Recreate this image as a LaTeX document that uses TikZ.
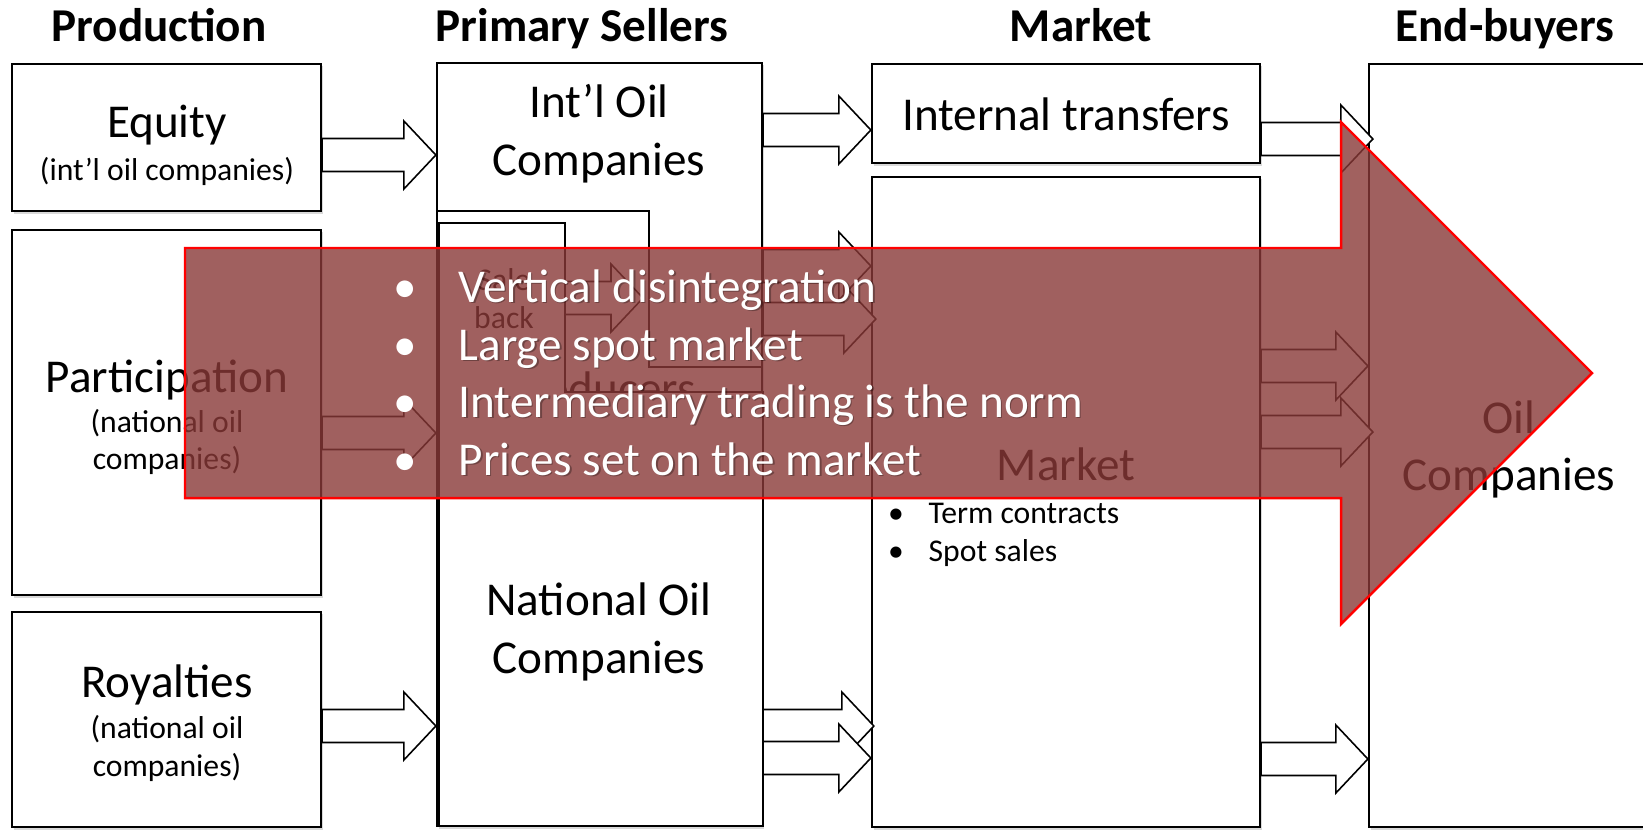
\documentclass[tikz,border=0pt]{standalone}
\usepackage{fontspec}
\setmainfont{Carlito}
\usetikzlibrary{calc,shadows}

\definecolor{overlay}{RGB}{137,57,55}
\newcommand\bigtext{\fontsize{13.4}{16.5}\selectfont}
\newcommand\smalltext{\fontsize{9}{10.8}\selectfont}
% one point of the list on the big arrow: name, baseline, text
\newcommand\pointline[3]{%
	\node[bul, text=black, text opacity=.3] (#1s) at (459.5,#2+1.5) {#3};
	\node[bul] (#1) at (458,#2) {#3};
	\node[bul, anchor=base] (#1b) at (405,#2) {\textbullet};}

\begin{document}
\begin{tikzpicture}[x=.01cm, y=-.01cm,
	col/.style={draw=black, line width=.6pt, fill=white, inner sep=0pt, drop shadow={shadow xshift=.5pt, shadow yshift=-.7pt, opacity=.3}},
	lbl/.style={anchor=base, font=\bigtext},
	sub/.style={anchor=base, font=\smalltext},
	head/.style={anchor=base, font=\bigtext\bfseries},
	bul/.style={anchor=base west, inner sep=0pt, font=\bigtext, text=white},
	blk/.style={draw=black, line width=.45pt, fill=white, to path={let \p1=(\tikztostart), \p2=(\tikztotarget) in
		(\x1,\y1+.165cm) -- (\x2-.32cm,\y1+.165cm) -- (\x2-.32cm,\y1+.34cm) -- (\x2,\y1) -- (\x2-.32cm,\y1-.34cm) -- (\x2-.32cm,\y1-.165cm) -- (\x1,\y1-.165cm) -- cycle}}]
	\useasboundingbox (0,0) rectangle (1643,832);

	% column heads
	\node[head] (tprod) at (159,41)  {Production};
	\node[head] (tprim) at (582,41)  {Primary Sellers};
	\node[head] (tmkt)  at (1081,41) {Market};
	\node[head] (tend)  at (1505,41) {End-buyers};

	% boxes
	\node[col, minimum width=3.09cm, minimum height=1.47cm] (eq)   at (166.5,137.5) {};
	\node[col, minimum width=3.09cm, minimum height=3.65cm] (part) at (166.5,412.5) {};
	\node[col, minimum width=3.09cm, minimum height=2.15cm] (roy)  at (166.5,719.5) {};
	\node[col, minimum width=3.25cm, minimum height=7.63cm] (pri)  at (599.5,444.5) {};
	\node[col, minimum width=3.88cm, minimum height=0.99cm] (it)   at (1066,113.5)  {};
	\node[col, minimum width=3.88cm, minimum height=6.50cm] (mkt)  at (1066,502)    {};
	\node[col, minimum width=2.79cm, minimum height=7.63cm] (eb)   at (1508.5,445.5) {};

	% primary sellers split in two
	\node[lbl] (prod) at (600,404) {Producers};
	\draw[line width=.6pt] (pri.west |- 0,211) -- (649,211) -- (649,367) -- (pri.east |- 0,367);
	\filldraw[line width=.6pt, fill=white] (439,223) -- (565,223) -- (565,392) -- (pri.east |- 0,392) -- (pri.east |- 0,826) -- (439,826) -- cycle;

	% texts
	\node[lbl] (eqa)   at (167,137) {Equity};
	\node[sub] (eqb)   at (167,180) {(int'l oil companies)};
	\node[lbl] (parta) at (167,392) {Participation};
	\node[sub] (partb) at (167,432) {(national oil};
	\node[sub] (partc) at (167,469) {companies)};
	\node[lbl] (roya)  at (167,697) {Royalties};
	\node[sub] (royb)  at (167,738) {(national oil};
	\node[sub] (royc)  at (167,776) {companies)};
	\node[lbl] (ioca)  at (599,117) {Int'l Oil};
	\node[lbl] (iocb)  at (599,175) {Companies};
	\node[sub] (sba)   at (504,290) {Sale};
	\node[sub] (sbb)   at (504,328) {back};
	\node[lbl] (noca)  at (599,615) {National Oil};
	\node[lbl] (nocb)  at (599,673) {Companies};
	\node[lbl] (ita)   at (1066,130) {Internal transfers};
	\node[lbl] (mkta)  at (1066,480) {Market};
	\node[sub] (tcb)   at (896,523) {\textbullet};
	\node[sub, anchor=base west, inner sep=0pt] (tc) at (928,523) {Term contracts};
	\node[sub] (ssb)   at (896,561) {\textbullet};
	\node[sub, anchor=base west, inner sep=0pt] (ss) at (928,561) {Spot sales};
	\node[lbl] (eba)   at (1509,433) {Oil};
	\node[lbl] (ebb)   at (1509,490) {Companies};

	% flows
	\coordinate (sb)  at (565,298);
	\coordinate (ioc) at (643,298);
	\draw[blk] (sb) to (ioc);
	\draw[blk] (eq.east |- 0,155)   to (pri.west |- 0,155);
	\draw[blk] (part.east |- 0,433) to (pri.west |- 0,433);
	\draw[blk] (roy.east |- 0,726)  to (pri.west |- 0,726);
	\draw[blk] (pri.east |- 0,130)  to (it.west |- 0,130);
	\draw[blk] (pri.east |- 0,266)  to (mkt.west |- 0,266);
	\draw[blk] (pri.east |- 0,319)  to ([xshift=.05cm]mkt.west |- 0,319);
	\draw[blk] (pri.east |- 0,726)  to ([xshift=.03cm]mkt.west |- 0,726);
	\draw[blk] (pri.east |- 0,758)  to (mkt.west |- 0,758);
	\draw[blk] (it.east |- 0,139)   to ([xshift=.05cm]eb.west |- 0,139);
	\draw[blk] (mkt.east |- 0,366)  to (eb.west |- 0,366);
	\draw[blk] (mkt.east |- 0,432)  to ([xshift=.05cm]eb.west |- 0,432);
	\draw[blk] (mkt.east |- 0,759)  to (eb.west |- 0,759);

	% big arrow laid over the chain
	\filldraw[draw=red, line width=.7pt, fill=overlay, fill opacity=.8] (185,248) -- (1341,248) -- (1341,122) -- (1592,373) -- (1341,624) -- (1341,498) -- (185,498) -- cycle;
	\pointline{p1}{302}{Vertical disintegration}
	\pointline{p2}{360}{Large spot market}
	\pointline{p3}{417}{Intermediary trading is the norm}
	\pointline{p4}{475}{Prices set on the market}
\end{tikzpicture}
\end{document}
